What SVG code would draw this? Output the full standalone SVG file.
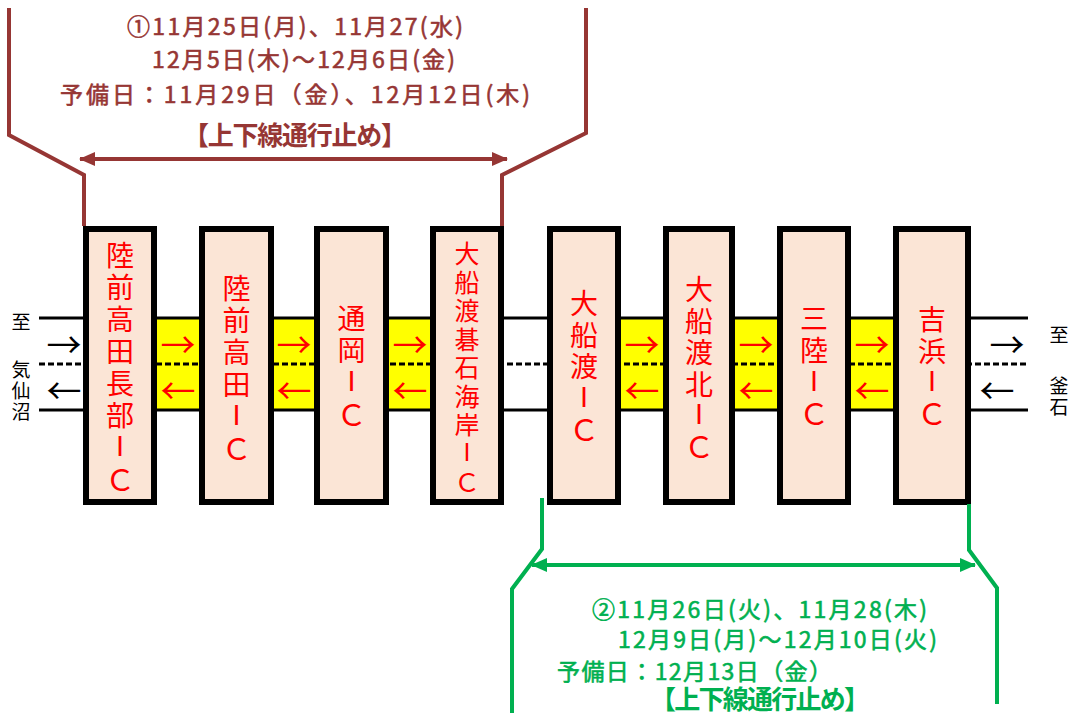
<svg xmlns="http://www.w3.org/2000/svg" width="1069" height="713" viewBox="0 0 1069 713">
<defs>
<style>
.box{fill:#FBE5D6;stroke:#000;stroke-width:6}
.bt{font-family:"Noto Sans CJK JP","Noto Sans CJK SC",sans-serif;font-size:28px;fill:#FF0000;text-anchor:middle;dominant-baseline:central}
.bt4{font-size:25px}
.ii{font-family:"Liberation Sans",Arial,sans-serif;font-size:29px}
.ii4{font-family:"Liberation Sans",Arial,sans-serif;font-size:25px}
.cc{font-size:30px}
.cc4{font-size:26px}
.road{stroke:#000;stroke-width:3;fill:none}
.dash{stroke:#000;stroke-width:3;stroke-dasharray:6 3;fill:none}
.yel{fill:#FFFF00}
.ar{font-family:"Noto Sans CJK JP",sans-serif;font-size:35px;text-anchor:middle;dominant-baseline:central}
.red{fill:#FF0000}
.blk{fill:#000}
.lbl{font-family:"Noto Sans CJK JP",sans-serif;font-size:19px;fill:#000;text-anchor:middle;dominant-baseline:central}
.brn{stroke:#963634;stroke-width:4;fill:none}
.grn{stroke:#00B050;stroke-width:4;fill:none}
.tx{font-family:"Noto Sans CJK JP",sans-serif;font-size:23px;dominant-baseline:central;stroke-width:0.6px}
.tb{fill:#963634;stroke:#963634}
.tg{fill:#00B050;stroke:#00B050}
.big{font-size:26px;font-weight:bold;stroke-width:0}
</style>
<marker id="ab" viewBox="0 0 16 14" refX="15" refY="7" markerWidth="16" markerHeight="14" markerUnits="userSpaceOnUse" orient="auto-start-reverse"><path d="M0,0 L16,7 L0,14 Z" fill="#963634"/></marker>
<marker id="ag" viewBox="0 0 16 14" refX="15" refY="7" markerWidth="16" markerHeight="14" markerUnits="userSpaceOnUse" orient="auto-start-reverse"><path d="M0,0 L16,7 L0,14 Z" fill="#00B050"/></marker>
</defs>
<rect width="1069" height="713" fill="#fff"/>

<g id="road">
<rect class="yel" x="157" y="318" width="42" height="92"/>
<rect class="yel" x="274" y="318" width="40" height="92"/>
<rect class="yel" x="389" y="318" width="41" height="92"/>
<rect class="yel" x="621" y="318" width="42" height="92"/>
<rect class="yel" x="735" y="318" width="42" height="92"/>
<rect class="yel" x="851" y="318" width="42" height="92"/>
<line class="road" x1="39" y1="318" x2="1028" y2="318"/>
<line class="road" x1="39" y1="410" x2="1028" y2="410"/>
<line class="dash" x1="39" y1="364" x2="1028" y2="364"/>
</g>

<g id="ic1"><rect class="box" x="86" y="229" width="68" height="273"/>
<text class="bt"><tspan x="120" y="254">陸</tspan><tspan x="120" y="286">前</tspan><tspan x="120" y="318">高</tspan><tspan x="120" y="350">田</tspan><tspan x="120" y="382">長</tspan><tspan x="120" y="414">部</tspan><tspan class="ii" x="120" y="446">I</tspan><tspan class="cc" x="120" y="478">Ｃ</tspan></text></g>
<g id="ic2"><rect class="box" x="202" y="229" width="69" height="273"/>
<text class="bt"><tspan x="236.5" y="287">陸</tspan><tspan x="236.5" y="319">前</tspan><tspan x="236.5" y="351">高</tspan><tspan x="236.5" y="383">田</tspan><tspan class="ii" x="236.5" y="415">I</tspan><tspan class="cc" x="236.5" y="447">Ｃ</tspan></text></g>
<g id="ic3"><rect class="box" x="317" y="229" width="69" height="273"/>
<text class="bt"><tspan x="351.5" y="317">通</tspan><tspan x="351.5" y="349">岡</tspan><tspan class="ii" x="351.5" y="381">I</tspan><tspan class="cc" x="351.5" y="413">Ｃ</tspan></text></g>
<g id="ic4"><rect class="box" x="433" y="229" width="68" height="273"/>
<text class="bt bt4"><tspan x="467" y="252">大</tspan><tspan x="467" y="280.5">船</tspan><tspan x="467" y="309">渡</tspan><tspan x="467" y="337.5">碁</tspan><tspan x="467" y="366">石</tspan><tspan x="467" y="394.5">海</tspan><tspan x="467" y="423">岸</tspan><tspan class="ii4" x="467" y="451.5">I</tspan><tspan class="cc4" x="467" y="480">Ｃ</tspan></text></g>
<g id="ic5"><rect class="box" x="550" y="229" width="68" height="273"/>
<text class="bt"><tspan x="584" y="302">大</tspan><tspan x="584" y="333.5">船</tspan><tspan x="584" y="365">渡</tspan><tspan class="ii" x="584" y="396.5">I</tspan><tspan class="cc" x="584" y="428">Ｃ</tspan></text></g>
<g id="ic6"><rect class="box" x="666" y="229" width="66" height="273"/>
<text class="bt"><tspan x="699" y="288">大</tspan><tspan x="699" y="319.5">船</tspan><tspan x="699" y="351">渡</tspan><tspan x="699" y="382.5">北</tspan><tspan class="ii" x="699" y="414">I</tspan><tspan class="cc" x="699" y="445">Ｃ</tspan></text></g>
<g id="ic7"><rect class="box" x="780" y="229" width="68" height="273"/>
<text class="bt"><tspan x="814" y="317">三</tspan><tspan x="814" y="349">陸</tspan><tspan class="ii" x="814" y="381">I</tspan><tspan class="cc" x="814" y="412">Ｃ</tspan></text></g>
<g id="ic8"><rect class="box" x="896" y="229" width="72" height="273"/>
<text class="bt"><tspan x="932" y="318">吉</tspan><tspan x="932" y="349.5">浜</tspan><tspan class="ii" x="932" y="381">I</tspan><tspan class="cc" x="932" y="412">Ｃ</tspan></text></g>

<g id="arrows">
<text class="ar red" x="178" y="342">→</text><text class="ar red" x="178" y="388">←</text>
<text class="ar red" x="294" y="342">→</text><text class="ar red" x="294" y="388">←</text>
<text class="ar red" x="410" y="342">→</text><text class="ar red" x="410" y="388">←</text>
<text class="ar red" x="642" y="342">→</text><text class="ar red" x="642" y="388">←</text>
<text class="ar red" x="756" y="342">→</text><text class="ar red" x="756" y="388">←</text>
<text class="ar red" x="872" y="342">→</text><text class="ar red" x="872" y="388">←</text>
<text class="ar blk" x="64" y="342">→</text><text class="ar blk" x="64" y="388">←</text>
<text class="ar blk" x="1007" y="342">→</text><text class="ar blk" x="997" y="388">←</text>
</g>

<g id="labels">
<text class="lbl" x="21" y="320">至</text>
<text class="lbl" x="21" y="368">気</text>
<text class="lbl" x="21" y="389">仙</text>
<text class="lbl" x="21" y="410">沼</text>
<text class="lbl" x="1059" y="333">至</text>
<text class="lbl" x="1059" y="384">釜</text>
<text class="lbl" x="1059" y="405">石</text>
</g>

<g id="connectors">
<polyline class="brn" points="9,8 9,135 84,175 84,226"/>
<polyline class="brn" points="586,8 586,133 502,175 502,226"/>
<line class="brn" x1="80" y1="159" x2="507" y2="159" marker-start="url(#ab)" marker-end="url(#ab)"/>
<polyline class="grn" points="542,498 542,549 512,589 512,713"/>
<polyline class="grn" points="969,504 969,550 997,588 997,704"/>
<line class="grn" x1="532" y1="565" x2="975" y2="565" marker-start="url(#ag)" marker-end="url(#ag)"/>
</g>

<g id="period1">
<text class="tx tb" x="127" y="25" textLength="336" lengthAdjust="spacing">①11月25日(月)、11月27(水)</text>
<text class="tx tb" x="152" y="58" textLength="303" lengthAdjust="spacing">12月5日(木)～12月6日(金)</text>
<text class="tx tb" x="60" y="93" textLength="470" lengthAdjust="spacing">予備日：11月29日（金）、12月12日(木)</text>
<text class="tx tb big" x="183" y="133" textLength="224" lengthAdjust="spacing">【上下線通行止め】</text>
</g>
<g id="period2">
<text class="tx tg" x="592" y="608" textLength="335" lengthAdjust="spacing">②11月26日(火)、11月28(木)</text>
<text class="tx tg" x="618" y="638" textLength="319" lengthAdjust="spacing">12月9日(月)～12月10日(火)</text>
<text class="tx tg" x="557" y="670" textLength="275" lengthAdjust="spacing">予備日：12月13日（金）</text>
<text class="tx tg big" x="650" y="697" textLength="220" lengthAdjust="spacing">【上下線通行止め】</text>
</g>
</svg>
